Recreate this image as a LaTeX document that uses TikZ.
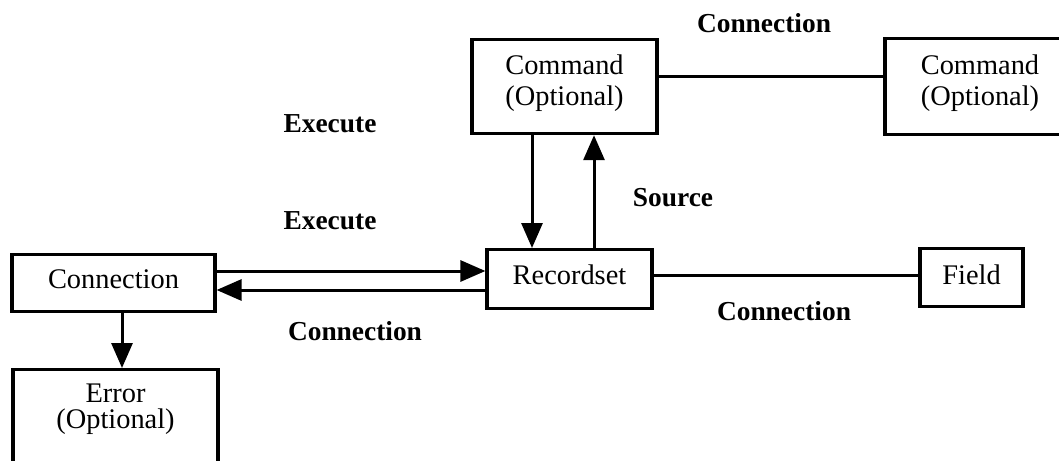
\documentclass[tikz,border=0pt]{standalone}
\usepackage{fontspec}
\setmainfont{Liberation Serif}
\usetikzlibrary{arrows.meta}
\begin{document}
\begin{tikzpicture}[x=0.5pt,y=-0.5pt,
  box/.style={draw, line width=1.6pt, inner xsep=0pt, inner ysep=0pt, align=center, font=\fontsize{14.2}{15.5}\selectfont},
  lbl/.style={anchor=base, inner sep=0pt, font=\bfseries\fontsize{13.7}{16}\selectfont},
  link/.style={line width=1.5pt},
  arr/.style={line width=1.5pt, -{Triangle[length=12.5pt,width=10.5pt]}}]
\useasboundingbox (0,0) rectangle (1059,460);
\clip (0,0) rectangle (1059,460);

% boxes
\node[box, anchor=north, minimum width=92.5pt] (cmd) at (564.5,38) {\rule{0pt}{17.5pt}Command\\(Optional)\rule[-14pt]{0pt}{0pt}};
\node[box, anchor=north, minimum width=95pt] (cmd2) at (980,37) {\rule{0pt}{18pt}Command\\(Optional)\rule[-14.5pt]{0pt}{0pt}};
\node[box, anchor=north, minimum width=101.5pt] (conn) at (113.5,253) {\rule[-11.5pt]{0pt}{28.5pt}Connection};
\node[box, anchor=north, minimum width=82.5pt] (rec) at (569.5,248) {\rule[-12pt]{0pt}{29.5pt}Recordset};
\node[box, anchor=north, minimum width=51.5pt] (field) at (971.5,247) {\rule[-11pt]{0pt}{29pt}Field};
\node[box, anchor=north, minimum width=102.5pt, font=\fontsize{14.2}{13}\selectfont] (err) at (115.5,368) {\rule{0pt}{16.5pt}Error\\(Optional)\rule[-25pt]{0pt}{0pt}};

% helper coordinates
\coordinate (ya) at (0,271);
\coordinate (yb) at (0,290);
\coordinate (xa) at (532,0);
\coordinate (xb) at (594,0);
\coordinate (xc) at (122,0);
\coordinate (yc) at (0,77);
\coordinate (yd) at (0,275);

% connectors
\draw[arr] (conn.east |- ya) -- (rec.west |- ya);
\draw[arr] (rec.west |- yb) -- (conn.east |- yb);
\draw[arr] (cmd.south -| xa) -- (rec.north -| xa);
\draw[arr] (rec.north -| xb) -- (cmd.south -| xb);
\draw[arr] (conn.south -| xc) -- (err.north -| xc);
\draw[link] (cmd.east |- yc) -- (cmd2.west |- yc);
\draw[link] (rec.east |- yd) -- (field.west |- yd);

% labels
\node[lbl] (lconn1) at (764,33) {Connection};
\node[lbl] (lexec1) at (330,133) {Execute};
\node[lbl] (lexec2) at (330,229) {Execute};
\node[lbl] (lsrc) at (673,206) {Source};
\node[lbl] (lconn2) at (784,320) {Connection};
\node[lbl] (lconn3) at (355,340) {Connection};
\end{tikzpicture}
\end{document}
